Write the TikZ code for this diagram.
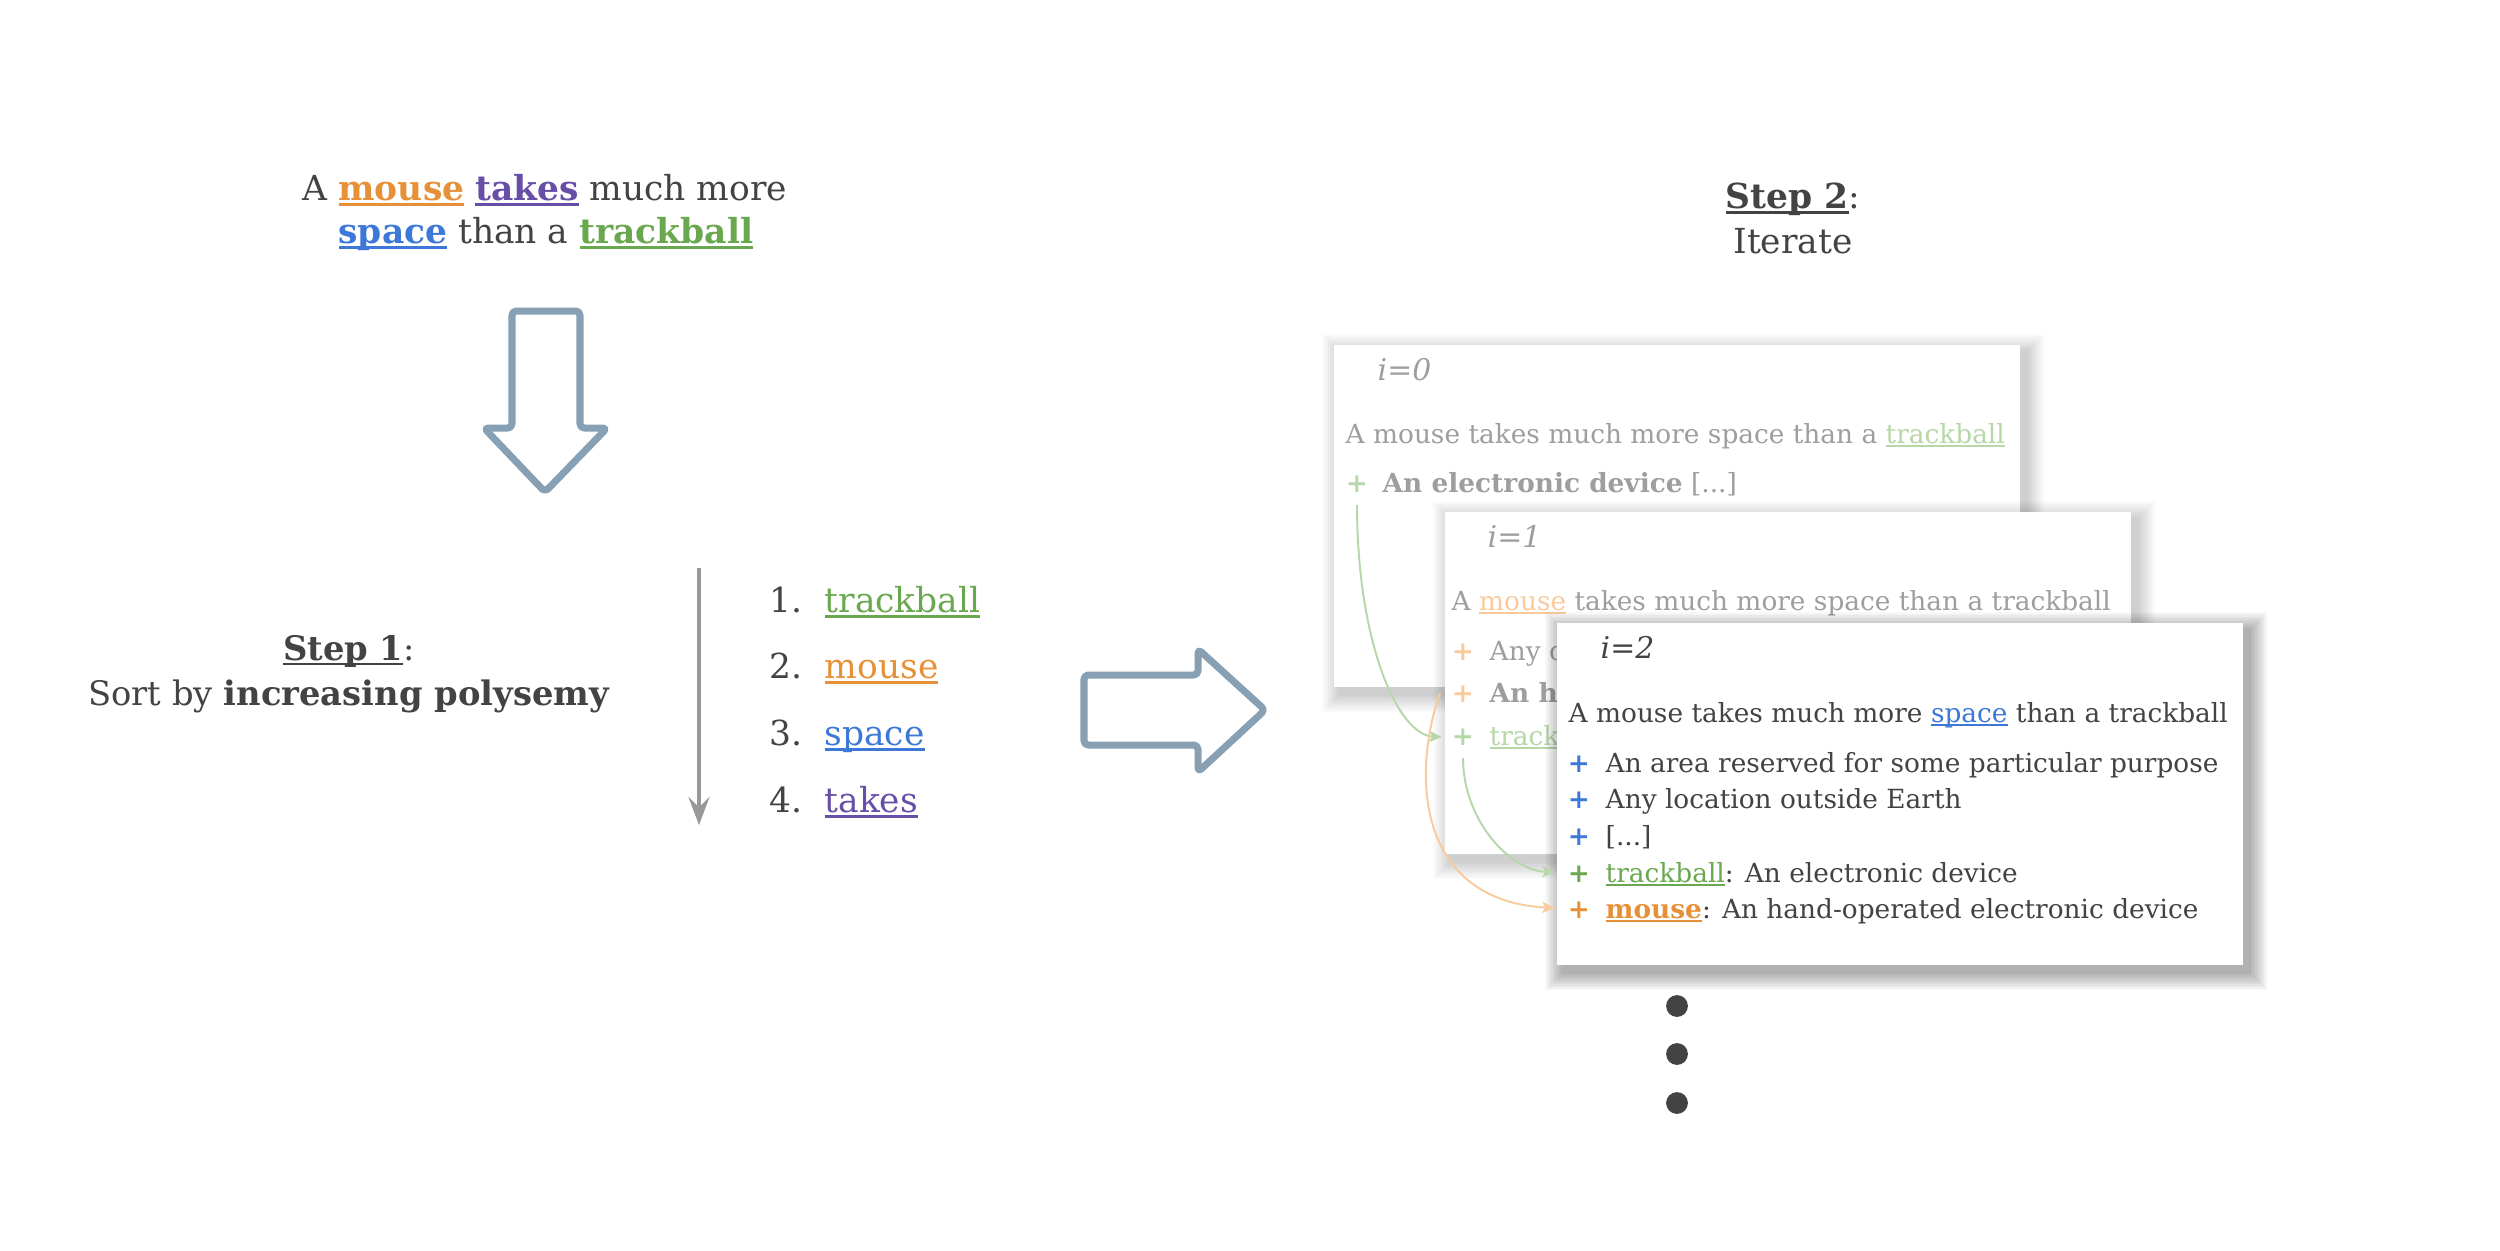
\documentclass[tikz,border=0pt]{standalone}
\usepackage{fontspec}
\setmainfont{DejaVu Serif}
\usetikzlibrary{arrows.meta,calc}
\definecolor{dark}{HTML}{434343}
\definecolor{cgray}{HTML}{9E9E9E}
\definecolor{corange}{HTML}{E69138}
\definecolor{cpurple}{HTML}{674EA7}
\definecolor{cblue}{HTML}{3C78D8}
\definecolor{cgreen}{HTML}{6AA84F}
\definecolor{lgreen}{HTML}{B6D7A8}
\definecolor{lorange}{HTML}{F9CB9C}
\definecolor{arrowc}{HTML}{87A0B4}
\definecolor{vgray}{HTML}{999999}
\newsavebox\myulbox
\newcommand\ulc[2]{{\color{#1}\sbox\myulbox{#2}\rlap{\rule[-0.16em]{\wd\myulbox}{0.075em}}\usebox\myulbox}}
% soft shadow of a card: #1,#2 = top-left corner (px), #3 = opacity per layer
\newcommand\cardshadow[3]{%
  \foreach \k in {1,...,12}{%
    \fill[black, opacity=#3] ({#1+7-1.5*\k},{#2+8-1.5*\k}) rectangle ({#1+686+7+1.5*\k},{#2+342+8+1.5*\k});
  }}
\begin{document}
\begin{tikzpicture}[x=0.01cm,y=-0.01cm,
  big/.style={font=\fontsize{9.8}{12}\selectfont, text=dark, inner sep=0pt},
  mid/.style={font=\fontsize{9.6}{12}\selectfont, text=dark, inner sep=0pt},
  sm/.style={font=\fontsize{7.5}{9}\selectfont, text=cgray, inner sep=0pt},
  lbl/.style={font=\fontsize{8.5}{10}\selectfont\itshape, inner sep=0pt},
  card/.style={draw=none, fill=white, anchor=north west, minimum width=6.86cm, minimum height=3.42cm, inner sep=0pt},
  blockarrow/.style={draw=arrowc, line width=2pt, rounded corners=1.2pt, line join=round},
  link/.style={line width=0.55pt, -{Stealth[length=3.7pt,width=3.2pt,inset=1pt]}},
]
\useasboundingbox (0,0) rectangle (2500,1250);
\fill[white] (0,0) rectangle (2500,1250);

% title sentence
\node[big, anchor=base] (t1) at (545,200) {A \ulc{corange}{\textbf{mouse}} \ulc{cpurple}{\textbf{takes}} much more};
\node[big, anchor=base] (t2) at (546,243) {\ulc{cblue}{\textbf{space}} than a \ulc{cgreen}{\textbf{trackball}}};

% down block arrow
\draw[blockarrow] (512,311) -- (580,311) -- (580,428) -- (607,428) -- (545,492) -- (484,428) -- (512,428) -- cycle;

% step 1
\node[mid, anchor=base] (s1a) at (349,660) {\ulc{dark}{\textbf{Step 1}}:};
\node[mid, anchor=base] (s1b) at (349,705) {Sort by \textbf{increasing polysemy}};

% sorting arrow
\coordinate (vtop) at (699,568);
\coordinate (vbot) at (699,825);
\draw[vgray, line width=1.1pt, -{Stealth[length=8pt,width=6pt,inset=3pt]}] (vtop) -- (vbot);

% list
\node[big, anchor=base east] (n1) at (803,612) {1.};
\node[big, anchor=base west] (w1) at (824,612) {\ulc{cgreen}{trackball}};
\node[big, anchor=base east] (n2) at (803,678) {2.};
\node[big, anchor=base west] (w2) at (824,678) {\ulc{corange}{mouse}};
\node[big, anchor=base east] (n3) at (803,745) {3.};
\node[big, anchor=base west] (w3) at (824,745) {\ulc{cblue}{space}};
\node[big, anchor=base east] (n4) at (803,812) {4.};
\node[big, anchor=base west] (w4) at (824,812) {\ulc{cpurple}{takes}};

% right block arrow
\draw[blockarrow] (1084,675) -- (1198,675) -- (1198,649) -- (1265,710) -- (1198,772) -- (1198,745) -- (1084,745) -- cycle;

% step 2
\node[big, anchor=base] (s2a) at (1793,208) {\ulc{dark}{\textbf{Step 2}}:};
\node[big, anchor=base] (s2b) at (1793,253) {Iterate};

% card 0
\cardshadow{1333}{344}{0.016}
\node[card] (c0) at (1333,344) {};
\node[lbl, text=cgray, anchor=base west] (l0) at (1377,380) {i=0};
\node[sm, anchor=base west] (q0) at (1345,443) {A mouse takes much more space than a \ulc{lgreen}{trackball}};
\node[sm, text=lgreen, anchor=base] (g0) at (1357,492) {\textbf{+}};
\node[sm, anchor=base west] (d0) at (1382,492) {\textbf{An electronic device} [...]};

% card 1
\cardshadow{1444}{511}{0.016}
\node[card] (c1) at (1444,511) {};
\node[lbl, text=cgray, anchor=base west] (l1) at (1487,547) {i=1};
\node[sm, anchor=base west] (q1) at (1451,610) {A \ulc{lorange}{mouse} takes much more space than a trackball};
\node[sm, text=lorange, anchor=base] (o1a) at (1463,660) {\textbf{+}};
\node[sm, anchor=base west] (d1a) at (1489,660) {Any of numerous small rodents};
\node[sm, text=lorange, anchor=base] (o1b) at (1463,702) {\textbf{+}};
\node[sm, anchor=base west] (d1b) at (1489,702) {\textbf{An hand-operated electronic device}};
\node[sm, text=lgreen, anchor=base] (g1) at (1463,745) {\textbf{+}};
\node[sm, anchor=base west] (d1c) at (1489,745) {\ulc{lgreen}{trackball}: An electronic device};

% card 2
\cardshadow{1556}{622}{0.026}
\node[card] (c2) at (1556,622) {};
\node[lbl, text=dark, anchor=base west] (l2) at (1600,658) {i=2};
\node[sm, text=dark, anchor=base west] (q2) at (1568,722) {A mouse takes much more \ulc{cblue}{space} than a trackball};
\node[sm, text=cblue, anchor=base] (b1) at (1579,772) {\textbf{+}};
\node[sm, text=dark, anchor=base west] (e1) at (1605,772) {An area reserved for some particular purpose};
\node[sm, text=cblue, anchor=base] (b2) at (1579,808) {\textbf{+}};
\node[sm, text=dark, anchor=base west] (e2) at (1605,808) {Any location outside Earth};
\node[sm, text=cblue, anchor=base] (b3) at (1579,845) {\textbf{+}};
\node[sm, text=dark, anchor=base west] (e3) at (1605,845) {[...]};
\node[sm, text=cgreen, anchor=base] (g2) at (1579,882) {\textbf{+}};
\node[sm, text=dark, anchor=base west] (e4) at (1605,882) {\ulc{cgreen}{trackball}: An electronic device};
\node[sm, text=corange, anchor=base] (o2) at (1579,918) {\textbf{+}};
\node[sm, text=dark, anchor=base west] (e5) at (1605,918) {\ulc{corange}{\textbf{mouse}}: An hand-operated electronic device};

% links
\coordinate (ga0) at ($(g0.base)+(0,13)$);
\coordinate (gb0) at ($(c1.west|-g1.base)+(-2,-8)$);
\draw[link, lgreen] (ga0) .. controls ($(ga0)+(0,135)$) and ($(gb0)+(-45,-2)$) .. (gb0);
\coordinate (ga1) at ($(g1.base)+(0,13)$);
\coordinate (gb1) at ($(c2.west|-g2.base)+(-1,-10)$);
\draw[link, lgreen] (ga1) .. controls ($(ga1)+(0,62)$) and ($(gb1)+(-45,-1)$) .. (gb1);
\coordinate (oa) at ($(c1.west|-o1b.base)+(-4,-9)$);
\coordinate (ob) at ($(c2.west|-o2.base)+(-1,-10)$);
\draw[link, lorange] (oa) .. controls ($(oa)+(-30,87)$) and ($(ob)+(-135,-7)$) .. (ob);

% ellipsis dots
\fill[dark] (1677,1006) circle[radius=3.1pt];
\fill[dark] (1677,1054) circle[radius=3.1pt];
\fill[dark] (1677,1103) circle[radius=3.1pt];
\end{tikzpicture}
\end{document}
